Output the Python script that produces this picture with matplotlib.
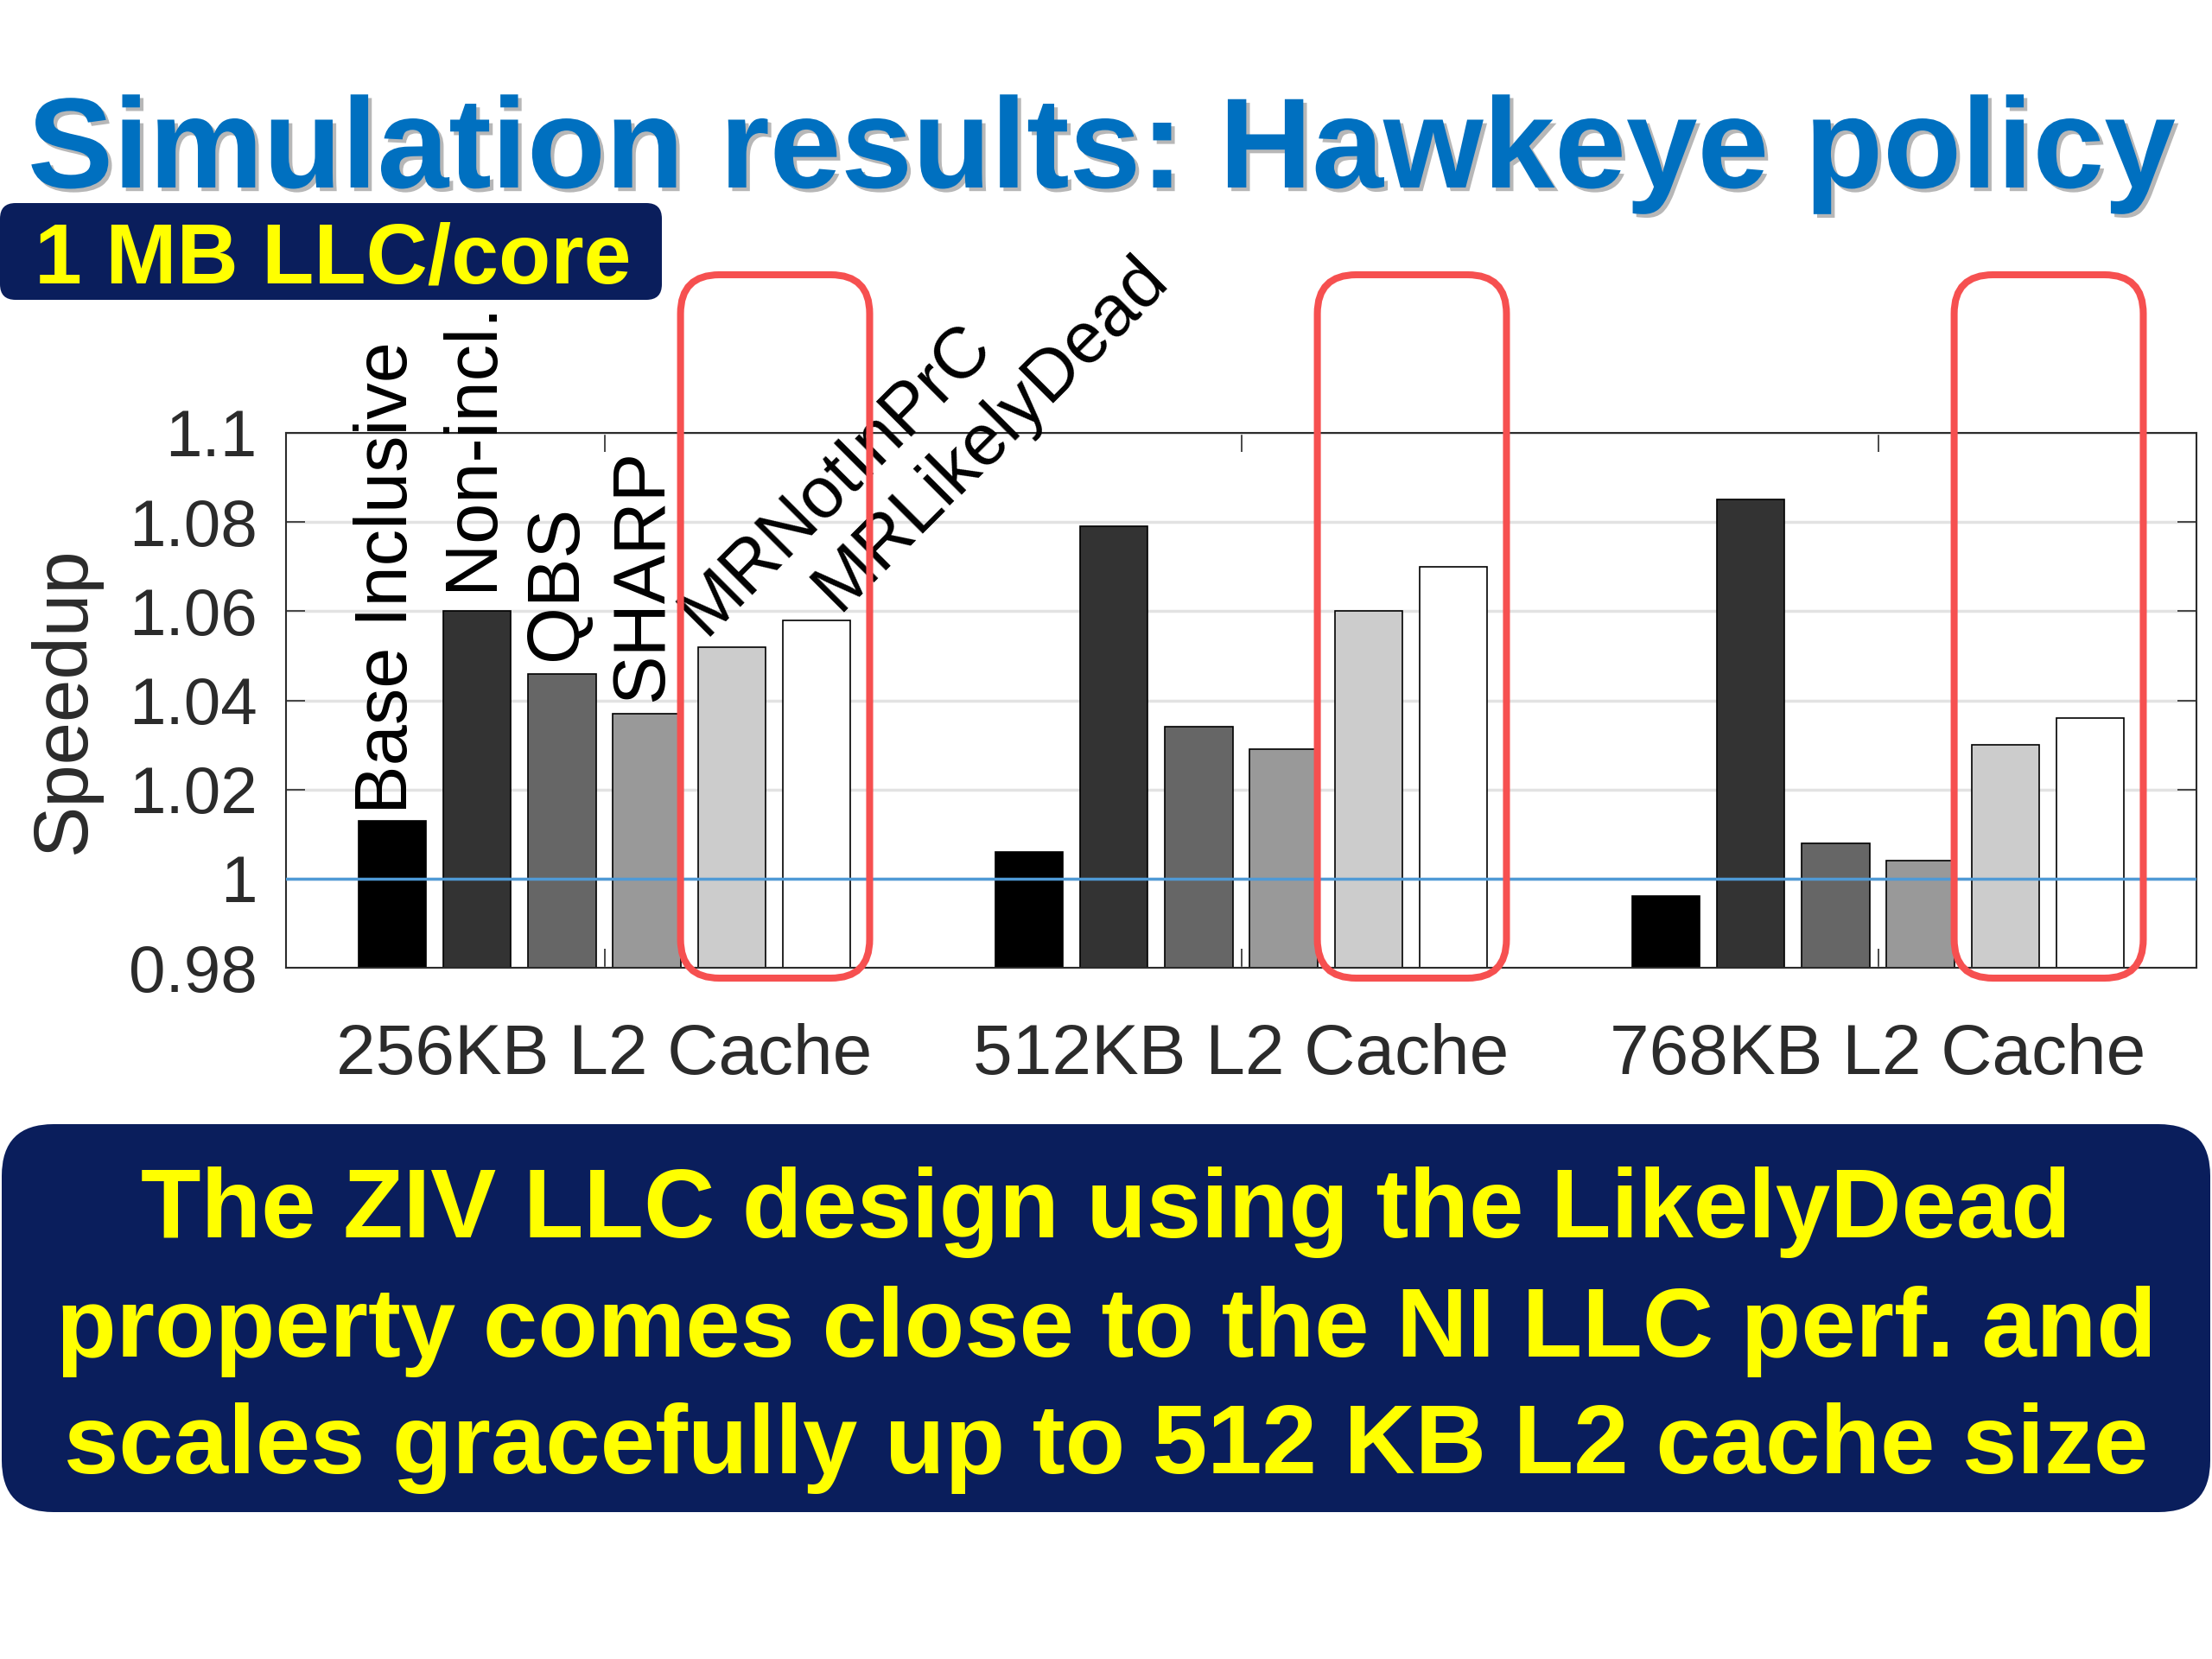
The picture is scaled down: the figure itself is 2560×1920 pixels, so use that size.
import numpy as np
import matplotlib
matplotlib.use('Agg')
import matplotlib.pyplot as plt
import matplotlib.patheffects as pe
from matplotlib.patches import FancyBboxPatch

plt.rcParams['font.family'] = ['Liberation Sans', 'DejaVu Sans']

# --- data (speedup over baseline) ---
GROUPS = ['256KB L2 Cache', '512KB L2 Cache', '768KB L2 Cache']
SERIES = ['Base Inclusive', 'Non-incl.', 'QBS', 'SHARP', 'MRNotInPrC', 'MRLikelyDead']
BASE_INCL = [1.013, 1.006, 0.996]
NON_INCL = [1.060, 1.079, 1.085]
QBS = [1.046, 1.034, 1.008]
SHARP = [1.037, 1.029, 1.004]
MR_NOT_IN_PRC = [1.052, 1.060, 1.030]
MR_LIKELY_DEAD = [1.058, 1.070, 1.036]
YTICKS = [0.98, 1.0, 1.02, 1.04, 1.06, 1.08, 1.1]
YTICK_LABELS = ['0.98', '1', '1.02', '1.04', '1.06', '1.08', '1.1']
BASELINE = 1.0
HIGHLIGHT = [4, 5]

TITLE = 'Simulation results: Hawkeye policy'
TAG = '1 MB LLC/core'
NOTE = ['The ZIV LLC design using the LikelyDead',
        'property comes close to the NI LLC perf. and',
        'scales gracefully up to 512 KB L2 cache size']

COLORS = ['#000000', '#333333', '#666666', '#999999', '#cccccc', '#ffffff']
NAVY = '#0a1e5c'
YELLOW = '#ffff00'
RED = '#f65050'
TXT = '#2b2b2b'

W, H = 2560, 1920
fig = plt.figure(figsize=(W / 100, H / 100), dpi=100)
fig.patch.set_facecolor('white')

ax = fig.add_axes([331 / W, 1 - 1120 / H, 2211 / W, 619 / H])

values = [BASE_INCL, NON_INCL, QBS, SHARP, MR_NOT_IN_PRC, MR_LIKELY_DEAD]
x = np.arange(1, len(GROUPS) + 1)
n = len(SERIES)
step = 0.8 / n
bar_w = step * 0.8
offsets = [(i - (n - 1) / 2) * step for i in range(n)]

for i, (vals, col) in enumerate(zip(values, COLORS)):
    ax.bar(x + offsets[i], vals, width=bar_w, color=col, edgecolor='black',
           linewidth=1.2, zorder=2)

ax.axhline(BASELINE, color='#4f9ad6', linewidth=2.5, zorder=3)

ax.set_xlim(0.5, 3.5)
ax.set_ylim(YTICKS[0], YTICKS[-1])
ax.set_yticks(YTICKS)
ax.set_yticklabels(YTICK_LABELS)
ax.set_xticks(x)
ax.set_xticklabels(GROUPS)
ax.set_axisbelow(True)
ax.yaxis.grid(True, color='#e2e2e2', linewidth=2.5)
for s in ax.spines.values():
    s.set_color(TXT)
    s.set_linewidth(1.5)
ax.tick_params(direction='in', length=16, width=1.2, colors=TXT,
               top=True, right=True)
ax.tick_params(axis='y', labelsize=55, pad=24)
ax.tick_params(axis='x', labelsize=59, pad=46)
ax.set_ylabel('Speedup', fontsize=64, color=TXT)
ax.yaxis.set_label_coords(-0.097, 0.5)

# series names written above the first group's bars
label_rot = [90, 90, 90, 90, 45, 45]
label_off = [(-5, 8), (-5, 24), (-5, 16), (-5, 14), (-31, 11), (25, 9)]
for i, name in enumerate(SERIES):
    if label_rot[i] == 90:
        ax.annotate(name, xy=(x[0] + offsets[i], values[i][0]),
                    xytext=label_off[i], textcoords='offset pixels',
                    rotation=90, ha='center', va='bottom', fontsize=61,
                    color='black', annotation_clip=False)
    else:
        ax.annotate(name, xy=(x[0] + offsets[i], values[i][0]),
                    xytext=label_off[i], textcoords='offset pixels',
                    rotation=45, rotation_mode='anchor', ha='left',
                    va='baseline', fontsize=60, color='black',
                    annotation_clip=False)

# overlay in pixel coordinates (origin top-left)
ov = fig.add_axes([0, 0, 1, 1])
ov.set_xlim(0, W)
ov.set_ylim(H, 0)
ov.axis('off')
ov.patch.set_alpha(0)

# red highlight boxes around the last two series of each group
for g in range(len(GROUPS)):
    xl = x[g] + offsets[HIGHLIGHT[0]] - bar_w / 2
    xr = x[g] + offsets[HIGHLIGHT[1]] + bar_w / 2
    (px0, py0), (px1, py1) = ax.transData.transform([(xl, YTICKS[0]), (xr, YTICKS[-1])])
    left, right = px0 - 20, px1 + 22
    top, bottom = H - py1 - 183, H - py0 + 12
    ov.add_patch(FancyBboxPatch((left, top), right - left, bottom - top,
                                boxstyle='round,pad=0,rounding_size=45',
                                fill=False, edgecolor=RED, linewidth=5.8,
                                zorder=5))

# title
ov.text(32, 217, TITLE, fontsize=107, fontweight='bold', color='#0070c0',
        ha='left', va='baseline',
        path_effects=[pe.withSimplePatchShadow(offset=(3, -3),
                                               shadow_rgbFace='#888888',
                                               alpha=0.6)])

# "1 MB LLC/core" tag
ov.add_patch(FancyBboxPatch((0, 235), 766, 112,
                            boxstyle='round,pad=0,rounding_size=18',
                            facecolor=NAVY, edgecolor='none'))
ov.text(40, 328, TAG, fontsize=71, fontweight='bold', color=YELLOW,
        ha='left', va='baseline')

# conclusion box
ov.add_patch(FancyBboxPatch((2, 1301), 2556, 449,
                            boxstyle='round,pad=0,rounding_size=60',
                            facecolor=NAVY, edgecolor='none'))
for line, yb in zip(NOTE, [1432, 1570, 1705]):
    ov.text(1280, yb, line, fontsize=82, fontweight='bold', color=YELLOW,
            ha='center', va='baseline')

fig.savefig('out.png', dpi=100)
